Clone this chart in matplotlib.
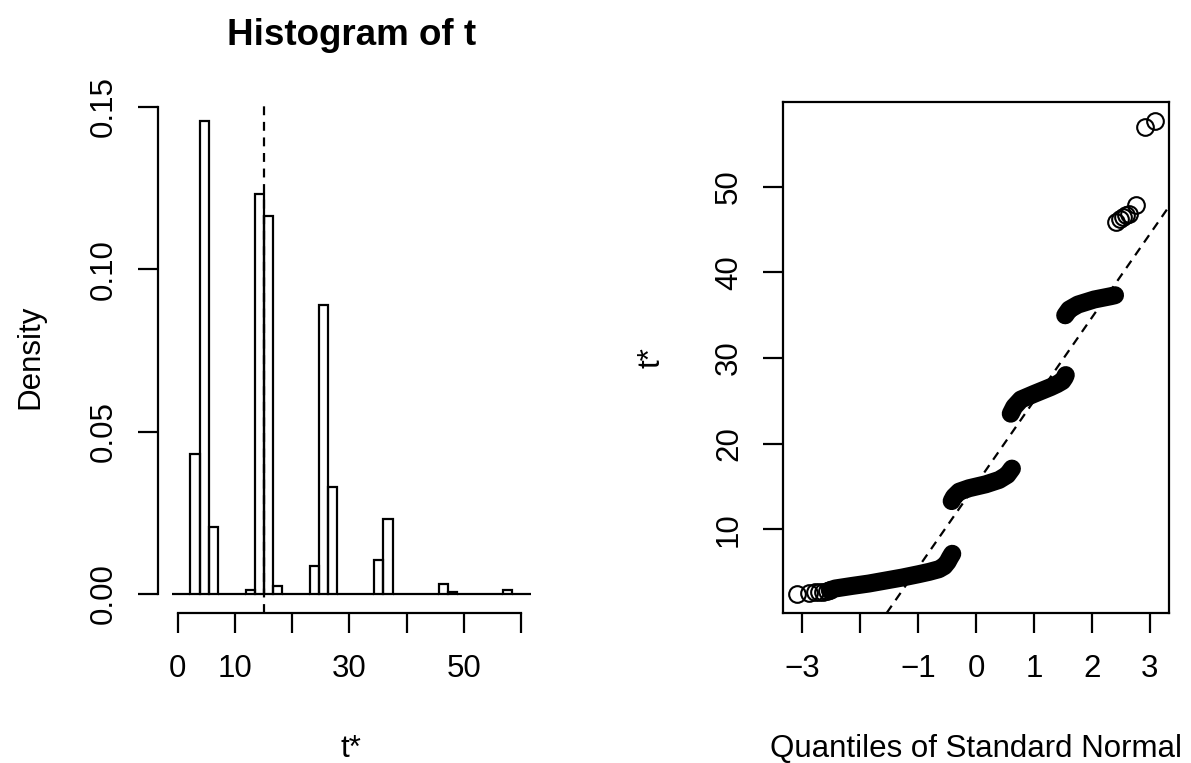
import matplotlib
matplotlib.use('Agg')
import matplotlib.pyplot as plt
import numpy as np

plt.rcParams['font.family'] = ['Liberation Sans', 'DejaVu Sans']
plt.rcParams['font.size'] = 22.5

# bootstrap output: 999 replicates of t
n_boot = 999
t0 = 15.06
bin_width = 1.607
first_break = -1.01
bin_counts = [0, 0, 69, 234, 33, 0, 0, 0, 2, 198, 187, 4, 0, 0, 0,
              14, 143, 53, 0, 0, 0, 0, 17, 37, 0, 0, 0, 0, 0,
              5, 1, 0, 0, 0, 0, 0, 2, 0, 0]

# normal QQ plot of t*: isolated points
qq_low_x = [-3.09, -2.88, -2.78, -2.71, -2.64, -2.58, -2.52]
qq_low_y = [2.45, 2.62, 2.64, 2.66, 2.72, 2.82, 2.90]
qq_high_x = [2.42, 2.48, 2.54, 2.59, 2.65, 2.77, 2.91, 3.09]
qq_high_y = [45.91, 46.18, 46.45, 46.64, 46.76, 47.85, 56.97, 57.67]
# dense runs of points, one per cluster
run1_x = [-2.52, -2.43, -2.14, -1.85, -1.56, -1.27, -0.99, -0.81, -0.64, -0.55, -0.49, -0.45, -0.41]
run1_y = [2.90, 3.10, 3.40, 3.68, 4.03, 4.38, 4.77, 5.04, 5.35, 5.70, 6.20, 6.70, 7.15]
run2_x = [-0.42, -0.38, -0.29, -0.12, 0.17, 0.40, 0.54, 0.62]
run2_y = [13.30, 13.80, 14.40, 14.80, 15.26, 15.77, 16.35, 17.09]
run3_x = [0.60, 0.66, 0.775, 1.00, 1.29, 1.40, 1.49, 1.53, 1.55]
run3_y = [23.5, 24.3, 25.15, 25.8, 26.6, 26.95, 27.3, 27.7, 28.0]
run4_x = [1.54, 1.61, 1.76, 2.04, 2.33, 2.40]
run4_y = [34.98, 35.65, 36.23, 36.82, 37.21, 37.32]
t_mean = 15.25
t_sd = 9.73

W, H = 1191, 763
fig = plt.figure(figsize=(W / 100, H / 100), dpi=100)
lw = 1.6
dashed = (0, (4, 3))

def px_axes(x0, y0, x1, y1):
    return fig.add_axes([x0 / W, 1 - y1 / H, (x1 - x0) / W, (y1 - y0) / H])

# ---- histogram ----
ax1 = px_axes(157.6, 101.9, 544.9, 612.8)
breaks = first_break + bin_width * np.arange(len(bin_counts) + 1)
dens = np.array(bin_counts) / (n_boot * bin_width)
ax1.bar(breaks[:-1], dens, width=bin_width, align='edge', fill=False,
        edgecolor='black', linewidth=lw)
ax1.axvline(t0, color='black', linestyle=dashed, linewidth=lw)
span = breaks[-1] - breaks[0]
ax1.set_xlim(breaks[0] - 0.04 * span, breaks[-1] + 0.04 * span)
ax1.set_ylim(-0.04 * dens.max(), 1.04 * dens.max())
for s in ['top', 'right']:
    ax1.spines[s].set_visible(False)
ax1.spines['left'].set_bounds(0, 0.15)
ax1.spines['bottom'].set_bounds(0, 60)
ax1.set_xticks(np.arange(0, 61, 10))
ax1.set_xticklabels(['0', '10', '', '30', '', '50', ''])
ax1.set_yticks([0, 0.05, 0.10, 0.15])
ax1.set_yticklabels(['0.00', '0.05', '0.10', '0.15'], rotation=90, va='center')

# ---- QQ plot ----
ax2 = px_axes(782.7, 101.9, 1169.3, 613.0)
for rx, ry in [(run1_x, run1_y), (run2_x, run2_y), (run3_x, run3_y), (run4_x, run4_y)]:
    ax2.plot(rx, ry, color='black', linewidth=13, solid_capstyle='round',
             solid_joinstyle='round')
for px, py in [(qq_low_x, qq_low_y), (qq_high_x, qq_high_y)]:
    ax2.plot(px, py, 'o', markersize=12, markerfacecolor='none',
             markeredgecolor='black', markeredgewidth=1.5)
ax2.axline((0, t_mean), slope=t_sd, color='black', linestyle=dashed, linewidth=lw)
all_x = qq_low_x + qq_high_x
all_y = qq_low_y + qq_high_y
xr = max(all_x) - min(all_x)
yr = max(all_y) - min(all_y)
ax2.set_xlim(min(all_x) - 0.04 * xr, max(all_x) + 0.04 * xr)
ax2.set_ylim(min(all_y) - 0.04 * yr, max(all_y) + 0.04 * yr)
ax2.set_xticks([-3, -2, -1, 0, 1, 2, 3])
ax2.set_xticklabels(['\u22123', '', '\u22121', '0', '1', '2', '3'])
ax2.set_yticks([10, 20, 30, 40, 50])
ax2.set_yticklabels(['10', '20', '30', '40', '50'], rotation=90, va='center')

for ax in (ax1, ax2):
    for s in ax.spines.values():
        s.set_linewidth(lw)
    ax.tick_params(axis='both', direction='out', length=14.4, width=lw, color='black')
    ax.tick_params(axis='x', pad=15)
    ax.tick_params(axis='y', pad=13.5)

# titles and axis labels
fig.text(351.3 / W, 1 - 45 / H, 'Histogram of t', ha='center', va='baseline',
         fontsize=26.5, fontweight='bold')
fig.text(351.3 / W, 1 - 757 / H, 't*', ha='center', va='baseline')
fig.text(976 / W, 1 - 757 / H, 'Quantiles of Standard Normal', ha='center', va='baseline')
fig.text(38 / W, 1 - 357.3 / H, 'Density', rotation=90, rotation_mode='anchor',
         ha='center', va='baseline')
fig.text(660 / W, 1 - 357.3 / H, 't*', rotation=90, rotation_mode='anchor',
         ha='center', va='baseline')

fig.savefig('out.png', dpi=100)
